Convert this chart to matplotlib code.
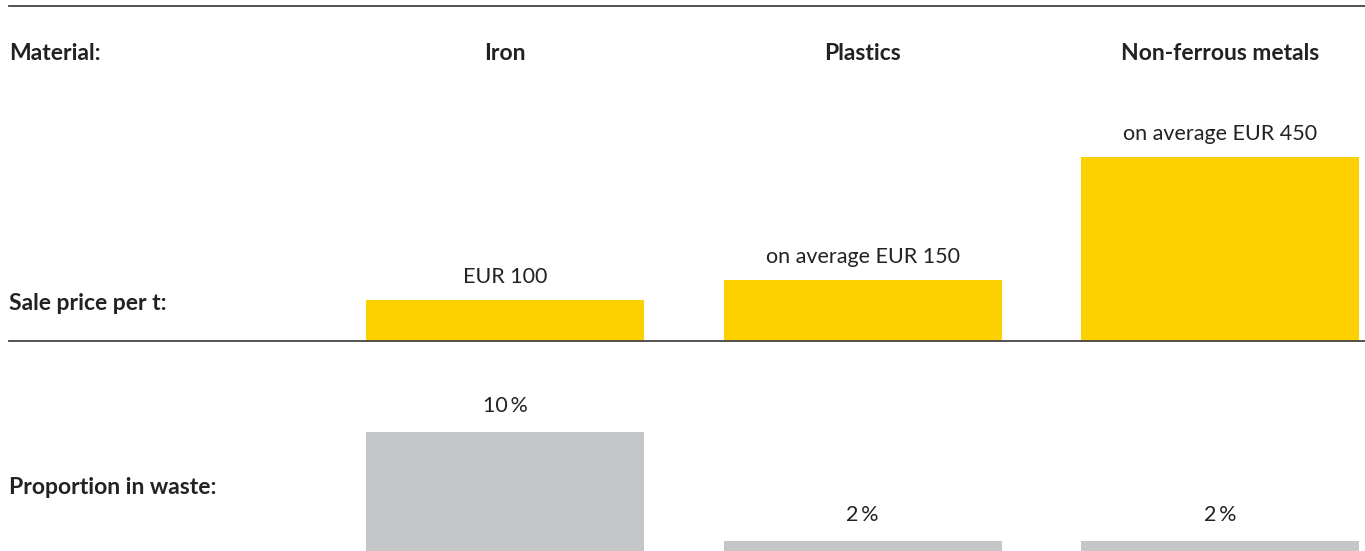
import numpy as np
import matplotlib.pyplot as plt

materials = ['Iron', 'Plastics', 'Non-ferrous metals']
price = [100, 150, 450]
price_labels = ['EUR 100', 'on average EUR 150', 'on average EUR 450']
share = [10, 2, 2]
share_labels = ['10\u2009%', '2\u2009%', '2\u2009%']

yellow = '#FDD000'
grey = '#C5C6C8'
line_col = '#444444'
txt = '#222222'

plt.rcParams['font.family'] = ['Lato', 'DejaVu Sans']

W, H = 1365, 551
fig = plt.figure(figsize=(W / 100, H / 100), dpi=100)

# pixel layout
left, right = 9, 1365
top_line, mid_line, bot_base = 6, 341, 568
px_eur = 0.41   # pixels per EUR
px_pct = 13.6   # pixels per %
fs = 15.5
fsb = 16.5

x = np.arange(1, 4)
xlim = ((left - 147.5) / 357.5, (right - 147.5) / 357.5)
bw = 278 / 357.5

ax1 = fig.add_axes([left / W, (H - mid_line) / H, (right - left) / W, (mid_line - top_line) / H])
ax1.set_xlim(*xlim)
ax1.set_ylim(0, (mid_line - top_line) / px_eur)
ax1.bar(x, price, width=bw, color=yellow)
for xi, v, lab in zip(x, price, price_labels):
    ax1.annotate(lab, (xi, v), xytext=(0, 16.5), textcoords='offset points',
                 ha='center', va='center', fontsize=fs, color=txt)
hdr_y = (mid_line - 54) / px_eur
tr = ax1.get_yaxis_transform()
ax1.text(0, hdr_y, 'Material:', transform=tr, ha='left', va='center',
         fontsize=fsb, fontweight='bold', color=txt)
for xi, m in zip(x, materials):
    ax1.text(xi, hdr_y, m, ha='center', va='center', fontsize=fsb,
             fontweight='bold', color=txt)
ax1.text(0, (mid_line - 303) / px_eur, 'Sale price per t:', transform=tr,
         ha='left', va='center', fontsize=fsb, fontweight='bold', color=txt)
for s in ['left', 'right']:
    ax1.spines[s].set_visible(False)
for s in ['top', 'bottom']:
    ax1.spines[s].set_color(line_col)
    ax1.spines[s].set_linewidth(1.3)
    ax1.spines[s].set_zorder(5)
ax1.set_xticks([])
ax1.set_yticks([])
ax1.patch.set_alpha(0)

ax2 = fig.add_axes([left / W, (H - bot_base) / H, (right - left) / W, (bot_base - mid_line) / H])
ax2.set_xlim(*xlim)
ax2.set_ylim(0, (bot_base - mid_line) / px_pct)
ax2.bar(x, share, width=bw, color=grey)
for xi, v, lab in zip(x, share, share_labels):
    ax2.annotate(lab, (xi, v), xytext=(0, 18.5), textcoords='offset points',
                 ha='center', va='center', fontsize=fs, color=txt)
ax2.text(0, (bot_base - 488) / px_pct, 'Proportion in waste:', transform=ax2.get_yaxis_transform(),
         ha='left', va='center', fontsize=fsb, fontweight='bold', color=txt)
ax2.axis('off')

fig.savefig('out.png', dpi=100)
